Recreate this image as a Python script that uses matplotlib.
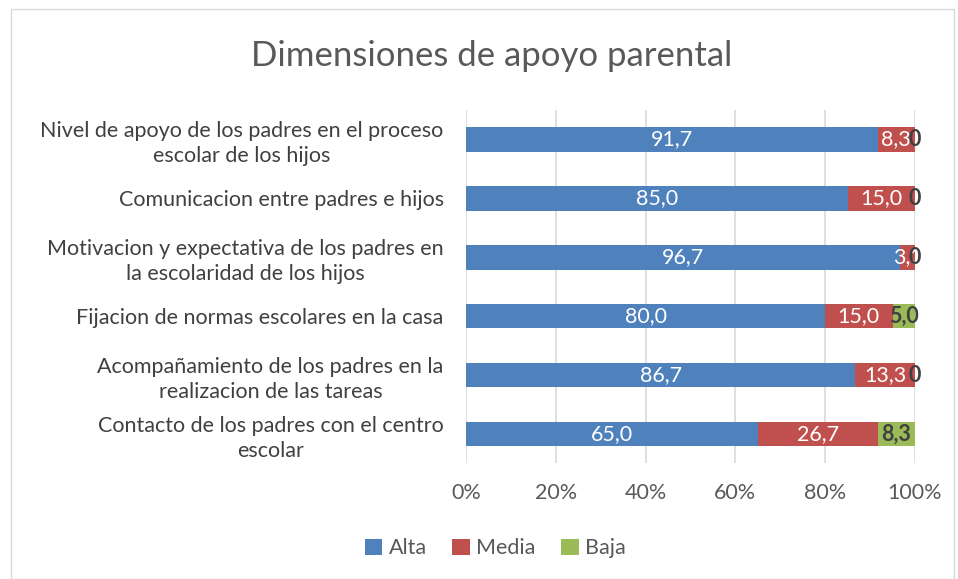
import matplotlib
matplotlib.use("Agg")
import matplotlib.pyplot as plt
from matplotlib.patches import Rectangle

categories = [
    "Nivel de apoyo de los padres en el proceso\nescolar de los hijos",
    "Comunicacion entre padres e hijos",
    "Motivacion y expectativa de los padres en\nla escolaridad de los hijos",
    "Fijacion de normas escolares en la casa",
    "Acompañamiento de los padres en la\nrealizacion de las tareas",
    "Contacto de los padres con el centro\nescolar",
]
alta = [91.7, 85.0, 96.7, 80.0, 86.7, 65.0]
media = [8.3, 15.0, 3.3, 15.0, 13.3, 26.7]
baja = [0.0, 0.0, 0.0, 5.0, 0.0, 8.3]
series_names = ["Alta", "Media", "Baja"]
xticks = [0, 20, 40, 60, 80, 100]
xtick_labels = ["0%", "20%", "40%", "60%", "80%", "100%"]

colors = ["#4F81BD", "#C0504D", "#9BBB59"]
font = "Lato"
plt.rcParams["font.family"] = [font, "DejaVu Sans"]

fig = plt.figure(figsize=(9.58, 5.79), dpi=100)
ax = fig.add_axes([0.4864, 0.1995, 0.4687, 0.611])

y = list(range(len(categories)))
h = 0.42
left = [0.0] * len(categories)
for name, vals, c in zip(series_names, [alta, media, baja], colors):
    ax.barh(y, vals, left=left, height=h, color=c, label=name, zorder=3)
    for yi, v, l in zip(y, vals, left):
        txt = f"{v:.1f}".replace(".", ",") if v != 0 else "0"
        if name == "Baja":
            ax.text(l + v / 2, yi, txt, ha="center", va="center", fontsize=15.5,
                    color="#404040", fontweight="bold", zorder=5)
        else:
            ax.text(l + v / 2, yi, txt, ha="center", va="center", fontsize=15.5,
                    color="white", zorder=5)
    left = [a + b for a, b in zip(left, vals)]

ax.set_xlim(0, 100)
ax.set_ylim(len(categories) - 0.5, -0.5)
ax.set_xticks(xticks)
ax.set_xticklabels(xtick_labels, fontsize=15.5, color="#595959")
ax.set_yticks(y)
ax.set_yticklabels(categories, fontsize=15.5, color="#404040", multialignment="center",
                   linespacing=1.3)
ax.tick_params(axis="both", length=0)
ax.tick_params(axis="y", pad=16)
ax.tick_params(axis="x", pad=14)
ax.grid(axis="x", color="#D9D9D9", linewidth=1.2, zorder=0)
for s in ax.spines.values():
    s.set_visible(False)

fig.text(0.513, 0.903, "Dimensiones de apoyo parental", ha="center", va="center",
         fontsize=25, color="#595959")

fig.legend(loc="center", bbox_to_anchor=(0.517, 0.053), ncol=3, frameon=False,
           fontsize=15.5, handlelength=0.8, handleheight=0.8, handletextpad=0.3,
           columnspacing=1.2, labelcolor="#595959")

fig.patches.append(Rectangle((0.011, 0.0), 0.985, 0.985, transform=fig.transFigure,
                             fill=False, edgecolor="#D9D9D9", linewidth=1))

fig.savefig("out.png", dpi=100, facecolor="white")
